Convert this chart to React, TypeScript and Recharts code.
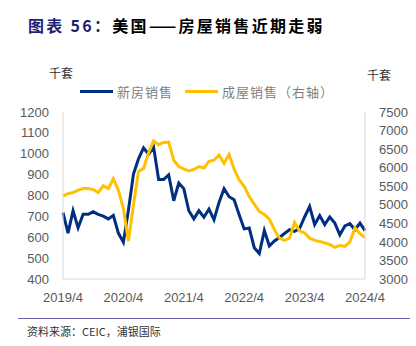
import React from "react"
import { LineChart, Line, XAxis, YAxis, Legend } from "recharts"

// monthly, 2019/4 .. 2024/4
const startYear = 2019
const startMonth = 4
const newHomeSales = [
  718, 620, 727, 645, 710, 710, 722, 710, 701, 688, 705, 620, 576, 730, 903, 976, 1028, 998, 1032, 877, 877,
  899, 775, 860, 833, 727, 688, 727, 696, 735, 684, 767, 833, 794, 780, 708, 640, 644, 550, 522, 632, 558, 582,
  599, 618, 636, 628, 642, 697, 747, 661, 704, 661, 697, 668, 611, 654, 665, 636, 668, 632,
]
const existingHomeSales = [
  5240, 5300, 5330, 5395, 5436, 5436, 5410, 5330, 5516, 5436, 5700, 5395, 4900, 4020, 5000, 5900, 5980, 6400,
  6720, 6620, 6680, 6690, 6200, 6030, 5970, 5910, 5950, 6030, 5990, 6170, 6200, 6340, 6120, 6360, 5960, 5670,
  5500, 5220, 5020, 4820, 4740, 4610, 4330, 4100, 4040, 4100, 4520, 4300, 4240, 4100, 4040, 4010, 3975, 3930,
  3850, 3900, 3880, 4000, 4380, 4220, 4120,
]
const leftTicks = [400, 500, 600, 700, 800, 900, 1000, 1100, 1200]
const rightTicks = [3000, 3500, 4000, 4500, 5000, 5500, 6000, 6500, 7000, 7500]

const BLUE = "#002f7f"
const YELLOW = "#ffc000"
const AXIS = "#d9d9d9"
const tickStyle = { fill: "#595959", fontSize: 13, fontFamily: "Liberation Sans, Arial, sans-serif" }
const cjk = "Noto Sans CJK SC, sans-serif"

const monthLabel = (i: number) => {
  const m = startMonth - 1 + i
  return `${startYear + Math.floor(m / 12)}/${(m % 12) + 1}`
}

const data = newHomeSales.map((v, i) => ({
  month: monthLabel(i),
  newSales: v,
  existingSales: existingHomeSales[i],
}))

const renderLegend = () => (
  <div
    style={{
      display: "flex",
      alignItems: "center",
      fontFamily: cjk,
      fontSize: 13,
      letterSpacing: 1,
      color: "#7f7f7f",
    }}
  >
    <span style={{ display: "inline-block", width: 33, height: 3, background: BLUE, marginRight: 4 }} />
    <span>新房销售</span>
    <span style={{ display: "inline-block", width: 33, height: 3, background: YELLOW, margin: "0 4px 0 12px" }} />
    <span>成屋销售（右轴）</span>
  </div>
)

export default function App() {
  return (
    <div style={{ position: "absolute", left: 0, top: 0, width: 416, height: 346, background: "#fff" }}>
      <div
        style={{
          position: "absolute",
          left: 28,
          top: 13,
          fontFamily: cjk,
          fontSize: 16,
          letterSpacing: 2.3,
          fontWeight: 700,
          color: "#000",
          whiteSpace: "nowrap",
        }}
      >
        <span style={{ color: "#1f1f7a" }}>图表 56：</span>美国——房屋销售近期走弱
      </div>
      <div style={{ position: "absolute", left: 49, top: 64, fontFamily: cjk, fontSize: 12, color: "#333" }}>千套</div>
      <div style={{ position: "absolute", left: 367, top: 66, fontFamily: cjk, fontSize: 12, color: "#333" }}>千套</div>
      <div style={{ position: "absolute", left: 0, top: 0 }}>
        <LineChart width={416} height={312} data={data} margin={{ top: 93, right: 0, bottom: 5, left: 0 }}>
          <XAxis
            dataKey="month"
            interval={11}
            tick={tickStyle}
            tickLine={false}
            tickMargin={8}
            stroke={AXIS}
            height={28}
          />
          <YAxis
            yAxisId="left"
            domain={[400, 1200]}
            ticks={leftTicks}
            interval={0}
            tick={tickStyle}
            tickLine={false}
            tickMargin={8}
            stroke={AXIS}
            width={63}
            allowDataOverflow
          />
          <YAxis
            yAxisId="right"
            orientation="right"
            domain={[3000, 7500]}
            ticks={rightTicks}
            interval={0}
            tick={{ ...tickStyle, textAnchor: "start" }}
            tickLine={false}
            tickMargin={8}
            stroke={AXIS}
            width={51}
            allowDataOverflow
          />
          <Legend verticalAlign="top" content={renderLegend} wrapperStyle={{ top: 82, left: 80, width: 320 }} />
          <Line
            yAxisId="left"
            dataKey="newSales"
            stroke={BLUE}
            strokeWidth={3}
            dot={false}
            isAnimationActive={false}
          />
          <Line
            yAxisId="right"
            dataKey="existingSales"
            stroke={YELLOW}
            strokeWidth={3}
            dot={false}
            isAnimationActive={false}
          />
        </LineChart>
      </div>
      <div style={{ position: "absolute", left: 18, top: 318, width: 392, height: 1, background: "#6a5fa8" }} />
      <div
        style={{
          position: "absolute",
          left: 27,
          top: 323,
          fontFamily: cjk,
          fontSize: 11,
          color: "#333",
          whiteSpace: "nowrap",
        }}
      >
        资料来源：CEIC，浦银国际
      </div>
    </div>
  )
}
